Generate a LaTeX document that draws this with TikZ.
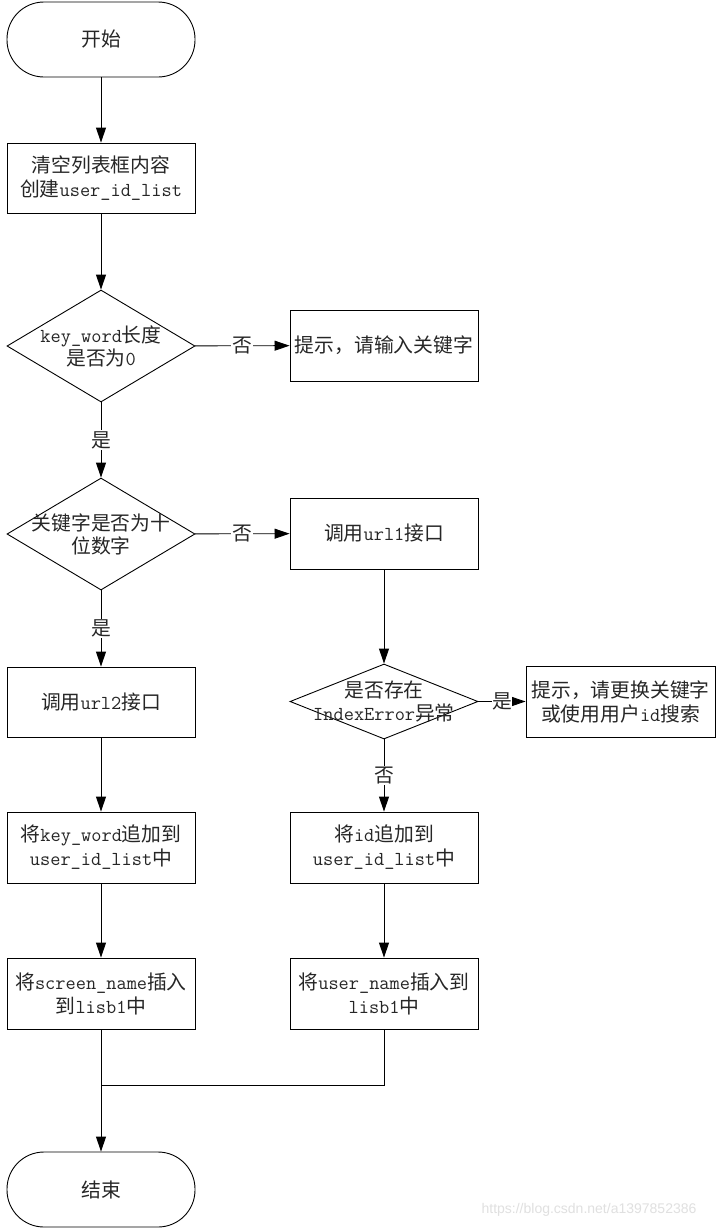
\documentclass[tikz,border=0pt]{standalone}
\usepackage{fontspec}
\setmainfont{Noto Sans CJK SC}
\newfontfamily\wmfont{Liberation Sans}
\usetikzlibrary{shapes.geometric,arrows.meta}
\newcommand\lt[1]{{\ttfamily #1}}
\tikzset{
  base/.style={draw, line width=0.9pt, inner sep=0pt, align=center, text=black!85,
    font=\fontsize{19.8}{24}\selectfont},
  boxnode/.style={base, rectangle, minimum width=188pt, minimum height=71pt},
  termnode/.style={base, rectangle, rounded corners=37pt, minimum width=188pt, minimum height=75pt},
  dianode/.style={draw, line width=0.9pt, diamond, inner sep=0pt, minimum width=188pt, minimum height=112pt},
  diatext/.style={align=center, inner sep=0pt, text=black!85, font=\fontsize{19.8}{23}\selectfont},
  conn/.style={line width=0.9pt, -{Triangle[length=15pt,width=10pt]}},
  plain/.style={line width=0.9pt},
  lbl/.style={fill=white, inner sep=1pt, text=black!85, font=\fontsize{19.8}{23}\selectfont}
}
\begin{document}
\begin{tikzpicture}[x=1pt,y=-1pt]
\useasboundingbox (0,0) rectangle (721,1229);
\fill[white] (0,0) rectangle (721,1229);

\node[termnode] (start) at (101,39.5) {开始};
\node[boxnode, minimum height=70pt] (b1) at (101,178) {清空列表框内容\\创建\lt{user\_id\_list}};
\node[dianode] (d1) at (101,346) {};
\node[diatext] (d1t) at (101,346) {\lt{key\_word}长度\\是否为\lt{0}};
\node[boxnode] (tip1) at (384,345.5) {提示，请输入关键字};
\node[dianode] (d2) at (101,534) {};
\node[diatext] (d2t) at (101,534.5) {关键字是否为十\\位数字};
\node[boxnode] (u1) at (384,533.5) {调用\lt{url1}接口};
\node[boxnode, minimum height=70pt] (u2) at (101,702) {调用\lt{url2}接口};
\node[dianode, minimum height=75pt] (d3) at (384,701.5) {};
\node[diatext] (d3t) at (384,701.5) {是否存在\\\lt{IndexError}异常};
\node[boxnode, minimum width=189pt] (tip2) at (620.5,701.5) {提示，请更换关键字\\或使用用户\lt{id}搜索};
\node[boxnode] (k) at (101,847.5) {将\lt{key\_word}追加到\\\lt{user\_id\_list}中};
\node[boxnode] (i) at (384,847.5) {将\lt{id}追加到\\\lt{user\_id\_list}中};
\node[boxnode] (s) at (101,993.5) {将\lt{screen\_name}插入\\到\lt{lisb1}中};
\node[boxnode] (un) at (384,993.5) {将\lt{user\_name}插入到\\\lt{lisb1}中};
\node[termnode] (end) at (101,1189.5) {结束};
\coordinate (j) at (101,1085);

\draw[conn] (start) -- (b1);
\draw[conn] (b1) -- (d1);
\draw[conn] (d1) -- node[lbl] {否} (tip1);
\draw[conn] (d1) -- node[lbl] {是} (d2);
\draw[conn] (d2) -- node[lbl] {否} (u1);
\draw[conn] (d2) -- node[lbl] {是} (u2);
\draw[conn] (u1) -- (d3);
\draw[conn] (d3) -- node[lbl, inner sep=0pt] {是} (tip2);
\draw[conn] (d3) -- node[lbl] {否} (i);
\draw[conn] (u2) -- (k);
\draw[conn] (k) -- (s);
\draw[conn] (i) -- (un);
\draw[conn] (s) -- (end);
\draw[plain] (un) |- (j);

\node[text=black!12, font=\wmfont\fontsize{14}{16}\selectfont, inner sep=0pt] (wm) at (589,1210) {https://blog.csdn.net/a1397852386};
\end{tikzpicture}
\end{document}
